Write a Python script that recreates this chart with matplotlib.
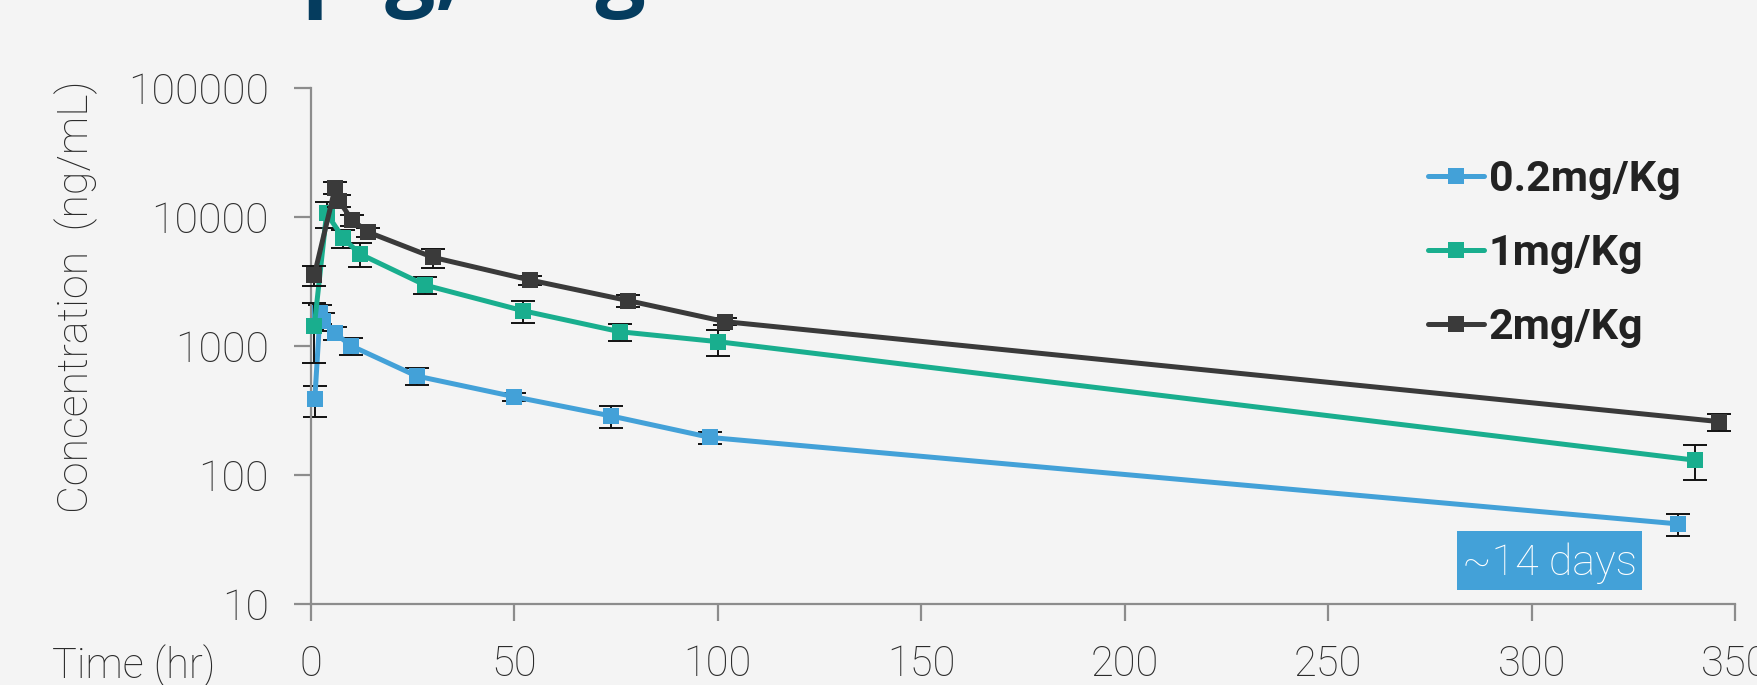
import matplotlib
matplotlib.use("Agg")
import matplotlib.pyplot as plt
from matplotlib.patches import Rectangle
from matplotlib.transforms import blended_transform_factory, ScaledTranslation

# ---- data: plasma concentration (ng/mL) vs time (hr), mean +/- SD ----
t_low = [1.0, 2.3, 3.1, 6.0, 9.9, 26.0, 50.0, 73.9, 98.2, 336.0]
c_low = [385, 1790, 1550, 1255, 1005, 585, 404, 286, 195, 41.6]
e_low = [105, 300, 250, 150, 150, 86, 30, 55, 20, 8]

t_mid = [0.9, 3.9, 8.0, 12.1, 28.1, 52.1, 76.0, 100.1, 340.1]
c_mid = [1440, 10700, 6860, 5180, 2970, 1880, 1290, 1080, 130]
e_mid = [700, 2500, 1100, 1100, 450, 370, 190, 250, 39]

t_high = [0.9, 6.0, 7.0, 10.1, 14.2, 30.0, 53.9, 78.0, 101.8, 346.0]
c_high = [3560, 16900, 13400, 9500, 7630, 4880, 3250, 2250, 1545, 259]
e_high = [650, 1900, 1500, 900, 600, 820, 250, 250, 100, 40]

series_labels = ["0.2mg/Kg", "1mg/Kg", "2mg/Kg"]
series_colors = ["#43A1D8", "#19AE8E", "#3A3A3A"]
x_ticks = [0, 50, 100, 150, 200, 250, 300, 350]
y_ticks = [10, 100, 1000, 10000, 100000]
y_tick_labels = ["10", "100", "1000", "10000", "100000"]

BG = "#F4F4F4"
AX_GRAY = "#8C8C8C"
TXT = "#2B2B2B"
W, H = 1757, 685

fig = plt.figure(figsize=(W / 100, H / 100), dpi=100, facecolor=BG)
ax = fig.add_axes([310.7 / W, 1 - 603.7 / H, (1735.3 - 310.7) / W, (603.7 - 88.3) / H])
ax.set_facecolor(BG)

light = dict(family="Roboto", weight="light")

handles = []
data = [(t_low, c_low, e_low), (t_mid, c_mid, e_mid), (t_high, c_high, e_high)]
for i, ((t, c, e), lab, col) in enumerate(zip(data, series_labels, series_colors)):
    ax.errorbar(t, c, yerr=e, fmt="none", ecolor="#111111", elinewidth=1.4,
                capsize=8.5, capthick=1.4, zorder=2 + 2 * i, clip_on=False)
    h, = ax.plot(t, c, color=col, lw=3.6, marker="s", markersize=11,
                 markeredgewidth=0, solid_capstyle="round", zorder=3 + 2 * i,
                 clip_on=False, label=lab)
    handles.append(h)

ax.set_yscale("log")
ax.set_xlim(0, 350)
ax.set_ylim(10, 100000)
ax.set_xticks(x_ticks)
ax.set_xticklabels([str(v) for v in x_ticks])
ax.set_yticks(y_ticks)
ax.set_yticklabels(y_tick_labels)
ax.yaxis.set_minor_locator(matplotlib.ticker.NullLocator())

for s in ("top", "right"):
    ax.spines[s].set_visible(False)
for s in ("left", "bottom"):
    ax.spines[s].set_color(AX_GRAY)
    ax.spines[s].set_linewidth(1.6)

ax.tick_params(axis="both", direction="out", length=12, width=1.6, color=AX_GRAY,
               labelcolor=TXT)
ax.tick_params(axis="x", pad=17, labelsize=30)
ax.tick_params(axis="y", pad=18, labelsize=31)
for lbl in ax.get_xticklabels() + ax.get_yticklabels():
    lbl.set_fontfamily("Roboto")
    lbl.set_fontweight("light")

# x-axis caption sitting on the tick-label row
trans = blended_transform_factory(fig.transFigure, ax.transAxes) + \
    ScaledTranslation(0, -(12 + 17) / 72, fig.dpi_scale_trans)
ax.text(51.7 / W, 0, "Time (hr)", transform=trans, ha="left", va="top",
        fontsize=30, color=TXT, **light)

# y-axis caption
fig.text(76 / W, 1 - 296.6 / H, "Concentration  (ng/mL)", rotation=90,
         ha="center", va="center", fontsize=31, color=TXT, **light)

# legend
leg = fig.legend(handles, series_labels, loc="upper left",
                 bbox_to_anchor=(1428.3 / W, 1 - 159 / H),
                 bbox_transform=fig.transFigure, frameon=False,
                 prop=dict(family="Roboto", weight="bold", size=31),
                 handlelength=1.3, handletextpad=0.1, labelspacing=0.77,
                 borderpad=0, borderaxespad=0)
for txt in leg.get_texts():
    txt.set_color("#222222")

# duration callout
fig.patches.append(Rectangle((1457.3 / W, 1 - 590 / H), 184.4 / W, 59 / H,
                             transform=fig.transFigure, facecolor="#43A1D8",
                             edgecolor="none", zorder=10))
fig.text(1549.5 / W, 1 - 575 / H, "~14 days", ha="center", va="baseline",
         fontsize=31, color="white", zorder=11, **light)

# slide heading: only its descenders fall inside the canvas
head_font = dict(fontsize=64, family="Open Sans", weight="bold")
probe = fig.text(0, 0, "PK in mini", **head_font)
fig.canvas.draw()
prefix_w = probe.get_window_extent(renderer=fig.canvas.get_renderer()).width
probe.remove()
fig.text((302 - prefix_w) / W, 1 + 2 / H, "PK in minipig, dog", ha="left",
         va="baseline", color="#053C5E", **head_font)

fig.savefig("out.png", dpi=100, facecolor=BG)
